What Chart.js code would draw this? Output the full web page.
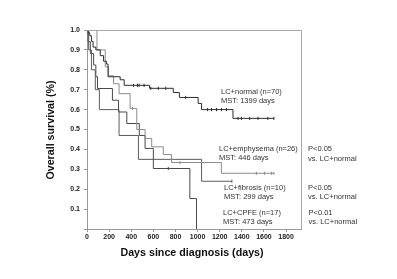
<!DOCTYPE html>
<html>
<head>
<meta charset="utf-8">
<script src="https://cdn.jsdelivr.net/npm/chart.js@4/dist/chart.umd.min.js"></script>
<style>
  html, body { margin: 0; padding: 0; background: #fff; }
</style>
</head>
<body>
<canvas id="chart" width="397" height="279"></canvas>
<script>
// Kaplan-Meier steps (days, survival fraction)
const normalDays = [0, 10, 25, 40, 55, 80, 120, 150, 175, 190, 300, 336, 565, 780, 835, 1005, 1036, 1320, 1690];
const normalSurv = [1.0, 0.986, 0.971, 0.943, 0.914, 0.90, 0.871, 0.843, 0.829, 0.765, 0.75, 0.722, 0.707, 0.686, 0.661, 0.631, 0.60, 0.556, 0.556];
const normalCensor = [420, 456, 471, 516, 577, 645, 712, 892, 1090, 1126, 1171, 1216, 1261, 1366, 1396, 1471, 1546, 1636, 1690];

const emphDays = [0, 90, 165, 195, 240, 290, 390, 450, 525, 585, 690, 765, 1215, 1690];
const emphSurv = [1.0, 0.90, 0.815, 0.77, 0.73, 0.68, 0.606, 0.50, 0.455, 0.413, 0.374, 0.334, 0.28, 0.28];
const emphCensor = [410, 840, 1531, 1606, 1666, 1690];

const fibDays = [0, 15, 40, 75, 112, 290, 465, 1036, 1310];
const fibSurv = [1.0, 0.9, 0.8, 0.7, 0.6, 0.47, 0.35, 0.24, 0.24];
const fibCensor = [1310];

const cpfeDays = [0, 10, 30, 60, 80, 95, 230, 285, 360, 473, 525, 600, 930, 990];
const cpfeSurv = [1.0, 0.941, 0.882, 0.824, 0.765, 0.706, 0.647, 0.588, 0.53, 0.47, 0.405, 0.304, 0.153, 0];
const cpfeCensor = [735];

const xTicks = [0, 200, 400, 600, 800, 1000, 1200, 1400, 1600, 1800];

const groupLabels = ['LC+normal (n=70)', 'LC+emphysema (n=26)', 'LC+fibrosis (n=10)', 'LC+CPFE (n=17)'];
const mstLabels = ['MST: 1399 days', 'MST: 446 days', 'MST: 299 days', 'MST: 473 days'];
const pLabels = ['', 'P<0.05', 'P<0.05', 'P<0.01'];

function steps(days, surv) {
  return days.map((d, i) => ({ x: d, y: surv[i] }));
}

// survival value at a given day, for placing censor ticks on the curve
function survAt(days, surv, d) {
  let v = surv[0];
  for (let i = 0; i < days.length; i++) {
    if (days[i] <= d) v = surv[i];
  }
  return v;
}

function censor(days, surv, marks) {
  return marks.map(d => ({ x: d, y: survAt(days, surv, d) }));
}

const colors = ['#2e2e2e', '#8c8c8c', '#5c5c5c', '#4a4a4a'];

const curveSet = [
  [normalDays, normalSurv, normalCensor],
  [emphDays, emphSurv, emphCensor],
  [fibDays, fibSurv, fibCensor],
  [cpfeDays, cpfeSurv, cpfeCensor]
];

const datasets = [];
curveSet.forEach((c, i) => {
  datasets.push({
    type: 'line',
    data: steps(c[0], c[1]),
    stepped: 'before',
    borderColor: colors[i],
    borderWidth: 1,
    pointRadius: 0,
    fill: false
  });
  datasets.push({
    type: 'scatter',
    data: censor(c[0], c[1], c[2]),
    pointStyle: 'line',
    rotation: 90,
    radius: 1.6,
    borderColor: colors[i],
    borderWidth: 1
  });
});

// titles, annotations and the top/right frame
const textPlugin = {
  id: 'textPlugin',
  afterDraw(chart) {
    const ctx = chart.ctx;
    const a = chart.chartArea;
    ctx.save();
    ctx.strokeStyle = '#a8a8a8';
    ctx.lineWidth = 1;
    ctx.beginPath();
    ctx.moveTo(a.left, a.top + 0.5);
    ctx.lineTo(a.right + 0.5, a.top + 0.5);
    ctx.lineTo(a.right + 0.5, a.bottom);
    ctx.stroke();

    ctx.fillStyle = '#111';
    ctx.font = 'bold 10.7px "Liberation Sans", Arial, sans-serif';
    ctx.textAlign = 'center';
    ctx.textBaseline = 'middle';
    ctx.fillText('Days since diagnosis (days)', 192, 253);
    ctx.translate(51, 130);
    ctx.rotate(-Math.PI / 2);
    ctx.fillText('Overall survival (%)', 0, 0);
    ctx.restore();

    ctx.save();
    ctx.fillStyle = '#333';
    ctx.font = '7.5px "Liberation Sans", Arial, sans-serif';
    ctx.textAlign = 'left';
    ctx.textBaseline = 'middle';
    const lx = [221, 219, 224, 223];
    const ly = [91.5, 149, 187.5, 212.5];
    const px = [0, 308, 308, 308.5];
    for (let i = 0; i < groupLabels.length; i++) {
      ctx.fillText(groupLabels[i], lx[i], ly[i]);
      ctx.fillText(mstLabels[i], lx[i], ly[i] + 9);
      if (pLabels[i]) {
        ctx.fillText(pLabels[i], px[i], ly[i]);
        ctx.fillText('vs. LC+normal', px[i], ly[i] + 9.5);
      }
    }
    ctx.restore();
  }
};

const config = {
  data: { datasets: datasets },
  options: {
    responsive: false,
    animation: false,
    layout: { padding: { left: 0, right: 96, top: 30, bottom: 0 } },
    plugins: {
      legend: { display: false },
      tooltip: { enabled: false }
    },
    scales: {
      x: {
        type: 'linear',
        min: 0,
        max: 1935,
        afterBuildTicks: s => { s.ticks = xTicks.map(v => ({ value: v })); },
        afterFit: s => { s.height = 50; },
        grid: { drawOnChartArea: false, tickLength: 3, color: '#999' },
        border: { color: '#999', width: 1 },
        ticks: {
          color: '#222',
          padding: 1,
          maxRotation: 0,
          font: { family: '"Liberation Sans", Arial, sans-serif', size: 7, weight: 'bold' },
          callback: v => String(v)
        }
      },
      y: {
        type: 'linear',
        min: 0,
        max: 1,
        afterFit: s => { s.width = 87; },
        grid: { drawOnChartArea: false, tickLength: 3, color: '#999' },
        border: { color: '#999', width: 1 },
        ticks: {
          stepSize: 0.1,
          color: '#222',
          padding: 4,
          font: { family: '"Liberation Sans", Arial, sans-serif', size: 7, weight: 'bold' },
          callback: v => (v < 0.05 ? '' : v.toFixed(1))
        }
      }
    }
  },
  plugins: [textPlugin]
};

const chart = new Chart(document.getElementById('chart'), config);
</script>
</body>
</html>
